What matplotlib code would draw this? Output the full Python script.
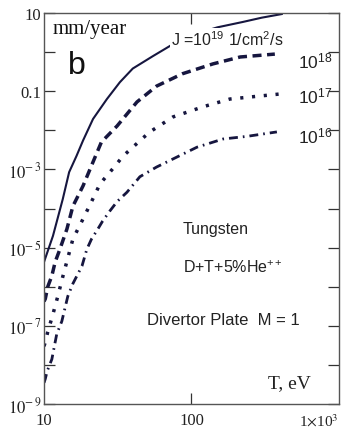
import numpy as np
import matplotlib
matplotlib.use("Agg")
from matplotlib import pyplot as plt
from matplotlib.ticker import FixedLocator, NullLocator

# erosion rate (mm/year) vs plasma temperature T (eV), one curve per flux J
t_19 = [10, 11.5, 13.4, 14.8, 16.6, 18.4, 21.5, 26.7, 32.7, 40, 54.8, 75, 110, 150, 223, 300, 410]
v_19 = [4.3e-6, 2e-5, 1.74e-4, 8.5e-4, 2.2e-3, 5.5e-3, 1.95e-2, 6.3e-2, 0.17, 0.38, 0.79, 1.6,
        3.0, 4.3, 5.9, 7.6, 9.4]

t_18 = [10, 10.2, 10.6, 11.3, 11.9, 12.8, 14.3, 15.7, 18.4, 21.5, 24.5, 31.3, 42.7, 58, 87,
        140, 214, 368]
v_18 = [4.2e-7, 4.9e-7, 1e-6, 1.9e-6, 4.3e-6, 9e-6, 3e-5, 1.15e-4, 3.8e-4, 1.55e-3, 5e-3,
        1.29e-2, 5.3e-2, 0.135, 0.28, 0.5, 0.75, 0.89]

t_17 = [10, 10.2, 10.6, 11.5, 12.4, 13.4, 15.7, 18.1, 21, 24, 28, 34.4, 44.7, 52, 75, 120,
        182, 400]
v_17 = [3e-8, 3.9e-8, 7e-8, 2e-7, 5.7e-7, 1.8e-6, 1.66e-5, 4.8e-5, 1.5e-4, 4.3e-4, 8.5e-4,
        2.2e-3, 5.4e-3, 9e-3, 2.2e-2, 4e-2, 6.3e-2, 8.5e-2]

t_16 = [10, 10.2, 10.5, 11.3, 12.2, 13.2, 14.5, 15.7, 18.1, 19.5, 21, 23.2, 25, 28, 31.3,
        36.5, 44.7, 58, 109, 164, 238, 380]
v_16 = [3.5e-9, 4.4e-9, 6.9e-9, 1.4e-8, 6.2e-8, 1.3e-7, 5.7e-7, 1.2e-6, 3.4e-6, 9e-6,
        1.66e-5, 3e-5, 4.8e-5, 8.7e-5, 1.5e-4, 2.6e-4, 6.5e-4, 1.15e-3, 3.7e-3, 6e-3,
        7e-3, 9.1e-3]

y_ticks = [10.0 ** k for k in range(-9, 2)]
y_labels = [r"$10^{-\,9}$", "", r"$10^{-\,7}$", "", r"$10^{-\,5}$", "", r"$10^{-\,3}$", "",
            "0.1", "", "10"]
x_ticks = [10, 100, 1000]
x_labels = ["10", "100", r"1$\times$10$^3$"]

plt.rcParams["font.family"] = ["Liberation Serif", "DejaVu Serif"]
plt.rcParams["mathtext.fontset"] = "stix"

col = "#16163f"
fig = plt.figure(figsize=(3.44, 4.31), dpi=100)
ax = fig.add_axes([0.128, 0.0603, 0.857, 0.9072])

ax.plot(t_19, v_19, color=col, lw=1.5)
ax.plot(t_18, v_18, color=col, lw=2.5, linestyle=(0, (2.6, 1.6)))
ax.plot(t_17, v_17, color=col, lw=2.5, linestyle=(0, (0.9, 2.5)))
ax.plot(t_16, v_16, color=col, lw=2.0, linestyle=(0, (3.2, 1.8, 0.6, 1.8)))

ax.set_xscale("log")
ax.set_yscale("log")
ax.set_xlim(10, 1000)
ax.set_ylim(1e-9, 10)

ax.yaxis.set_major_locator(FixedLocator(y_ticks))
ax.set_yticklabels(y_labels)
ax.yaxis.set_minor_locator(NullLocator())
ax.xaxis.set_major_locator(FixedLocator(x_ticks))
ax.set_xticklabels(x_labels)
ax.xaxis.set_minor_locator(NullLocator())

ax.tick_params(axis="y", which="major", direction="in", length=8, width=0.9,
               right=True, labelsize=12, pad=2, colors="#333333", labelcolor="#222222")
ax.tick_params(axis="x", which="major", direction="in", length=8, width=0.9,
               top=True, labelsize=12, pad=6, colors="#333333", labelcolor="#222222")
# no tick marks at the ends of the x range
for t in ax.xaxis.get_major_ticks():
    if t.get_loc() != 100:
        t.tick1line.set_visible(False)
        t.tick2line.set_visible(False)
ax.get_xticklabels()[-1].set_horizontalalignment("right")
ax.get_xticklabels()[-1].set_fontsize(11)
for s in ax.spines.values():
    s.set_color("#555555")
    s.set_linewidth(1.0)

tr = ax.transAxes
sans = "Liberation Sans"
ax.text(0.03, 0.96, "mm/year", transform=tr, fontsize=15,
        color="#111111", va="center")
ax.text(0.08, 0.868, "b", transform=tr, fontsize=23, family=sans,
        color="#111111", va="center")
ax.text(0.43, 0.935, r"J =$\mathregular{10^{19}}$ 1/cm$\mathregular{^2}$/s", transform=tr,
        fontsize=11.5, family=sans, color="#222222", va="center",
        bbox=dict(facecolor="white", edgecolor="none", pad=0.5))
for yy, lab in [(0.878, "18"), (0.788, "17"), (0.688, "16")]:
    ax.text(0.86, yy, r"$\mathregular{10^{%s}}$" % lab, transform=tr, fontsize=12.5,
            family=sans, color="#222222", va="center")
ax.text(0.47, 0.45, "Tungsten", transform=tr, fontsize=11.5, family=sans,
        color="#222222", va="center")
ax.text(0.47, 0.35, r"D+T+5%He$\mathregular{^{++}}$", transform=tr, fontsize=11.5,
        family=sans, color="#222222", va="center")
ax.text(0.35, 0.215, "Divertor Plate  M = 1", transform=tr, fontsize=12,
        family=sans, color="#222222", va="center")
ax.text(0.76, 0.055, "T, eV", transform=tr, fontsize=14, color="#222222", va="center")

fig.savefig("out.png", dpi=100)
